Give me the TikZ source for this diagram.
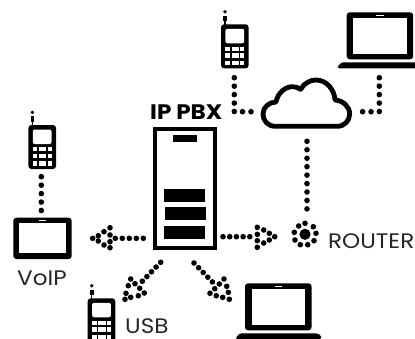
\documentclass[tikz,border=0pt]{standalone}
\usepackage{fontspec}
\setmainfont{Poppins}[FakeStretch=1.1]
\tikzset{
  dotline/.style={line width=5.6pt,line cap=round,dash pattern=on 0pt off #1},
  dotline/.default=8.45pt,
  iconwhite/.style={fill=white,draw=none},
  ink/.style={fill=black,draw=none},
  labeltext/.style={inner sep=0pt,text=black!85,font=\fontsize{21}{21}\selectfont,anchor=base west},
}
\newcommand{\phoneicon}[2]{%
  \begin{scope}[shift={(#1,#2)}]
    \fill[ink] (4,-12.6) circle (1.9);
    \fill[ink] (2.2,-8.8) rectangle (5.8,-3.4);
    \fill[ink] (3.4,-3.5) rectangle (4.6,1);
    \fill[ink,rounded corners=3pt] (0,0) rectangle (27.6,44);
    \fill[iconwhite,rounded corners=2pt] (4.4,4.5) rectangle (23.2,19);
    \foreach \ya/\yb in {22.3/26.3,29/33.2,36.2/40.6}
      \foreach \xa/\xb in {4.4/9,10.7/18,19.4/23.2}
        \fill[iconwhite] (\xa,\ya) rectangle (\xb,\yb);
  \end{scope}}
\newcommand{\laptopicon}[2]{%
  \begin{scope}[shift={(#1,#2)}]
    \fill[ink,rounded corners=3pt] (0,0) rectangle (66.5,47);
    \fill[iconwhite] (6.7,5.8) rectangle (60,41.2);
    \fill[iconwhite] (29.5,2.5) rectangle (37.2,4.1);
    \fill[ink,rounded corners=1.5pt] (-5,50) -- (72,50) -- (76,52) -- (76,56) -- (-9,56) -- (-9,54) -- cycle;
  \end{scope}}
\newcommand{\dotset}[1]{\foreach \px/\py in {#1} \fill[ink] (\px,\py) circle (2.8);}
\begin{document}
\begin{tikzpicture}[x=1pt,y=-1pt]
\useasboundingbox (0,0) rectangle (415,338);
\fill[white] (0,0) rectangle (415,338);
% coordinates for connector ends
\coordinate (phoneTopEnd) at (234.3,77.7);
\coordinate (cloudL) at (251.3,111.7);
\coordinate (laptopTopEnd) at (379.3,77.7);
\coordinate (cloudR) at (362.3,111.7);
\coordinate (cloudB) at (307,141.3);
\coordinate (routerT) at (307,209);
\coordinate (phoneLeftEnd) at (41.3,176.7);
\coordinate (tabletT) at (41.3,210.5);
\coordinate (pbxL) at (143.3,238.3);
\coordinate (arrLtip) at (115,238.3);
\coordinate (pbxR) at (223,236.7);
\coordinate (arrRtip) at (251.7,236.7);
\coordinate (pbxBL) at (160.7,262.3);
\coordinate (arrBLtip) at (142,281.6);
\coordinate (pbxBR) at (194,263);
\coordinate (arrBRtip) at (213.5,283);
% icons
\phoneicon{221}{24.3}
\phoneicon{28.4}{125}
\phoneicon{87.7}{298.3}
\laptopicon{346.7}{12.3}
\laptopicon{245}{283.3}
% tablet
\fill[ink,rounded corners=3pt] (13.3,217.7) rectangle (71.7,259);
\fill[iconwhite] (19,222.6) rectangle (65.7,253.3);
\fill[iconwhite] (39.3,219.5) rectangle (46,220.9);
% server
\draw[line width=4pt] (155.3,129.3) rectangle (215.3,248);
\fill[ink] (173,135) rectangle (197,142);
\fill[ink] (164,189) rectangle (205,201.7);
\fill[ink] (165,207.3) rectangle (206,220);
\fill[ink] (164,226) rectangle (205,239);
% cloud
\begin{scope}[shift={(255,72)},x=0.3333pt,y=-0.3333pt]
\draw[line width=4.8pt,line join=round,fill=white]
  (62,163) .. controls (38,163) and (24,146) .. (24,126)
  .. controls (24,106) and (42,90) .. (63,90)
  .. controls (68,62) and (92,44) .. (112,44)
  .. controls (122,44) and (130,47) .. (137,52)
  .. controls (147,34) and (165,24) .. (183,24)
  .. controls (214,24) and (238,52) .. (240,84)
  .. controls (265,86) and (284,104) .. (284,126)
  .. controls (284,147) and (268,163) .. (246,163) -- cycle;
\end{scope}
% router
\fill[ink] (305,234.3) circle (5.6);
\dotset{305/223.3,313.3/226.7,316/233.3,314/240.7,307.7/244.7,300.3/244.7,295/240,294.3/232.3,298.7/226}
% connectors
\draw[dotline] (phoneTopEnd) |- (cloudL);
\draw[dotline] (laptopTopEnd) |- (cloudR);
\draw[dotline] (cloudB) -- (routerT);
\draw[dotline] (phoneLeftEnd) -- (tabletT);
\draw[dotline=7pt] (pbxL) -- (arrLtip);
\draw[dotline=6.7pt] (pbxR) -- (arrRtip);
\draw[dotline=6.6pt] (pbxBL) -- (arrBLtip);
\draw[dotline=6.6pt] (pbxBR) -- (arrBRtip);
% arrow heads
\dotset{110/227.7,110/235,110/241.7,110/247.7,104/231.7,104/245,98.3/235.7,98.3/241,92.7/238.3}
\dotset{257.3/227.3,257.3/234.3,257.3/240.7,257.3/247.3,263.7/230,263.7/243,269.3/233.3,269.3/240,274.7/236.7}
\dotset{130.7/279,135/283.7,139.7/288.3,144.3/293,128.3/285.7,126/293.3}
\dotset{125/299.3,130.7/297.3,138.3/295.7}
\dotset{224/279,219.3/284,214.7/288.7,210/293.3,226.7/286.3,228.3/292.3,229.3/299.3,222.7/297.3,216.3/295.7}
% labels
\node[inner sep=0pt,anchor=base west,font=\bfseries\fontsize{21}{21}\selectfont] (pbxlabel) at (150,119) {IP PBX};
\node[labeltext] (voip) at (17,285) {VoIP};
\node[labeltext] (usb) at (125,333.3) {USB};
\node[labeltext] (router) at (328,248) {ROUTER};
\end{tikzpicture}
\end{document}
